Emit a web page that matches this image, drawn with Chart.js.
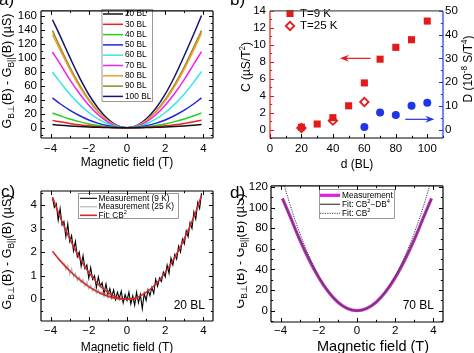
<!DOCTYPE html>
<html>
<head>
<meta charset="utf-8">
<script src="https://cdn.jsdelivr.net/npm/chart.js@4.4.1/dist/chart.umd.min.js"></script>
<style>
  body { margin: 0; width: 474px; height: 353px; position: relative; overflow: hidden; background: #fff; }
  canvas { position: absolute; }
  .lbl { position: absolute; font: 17px "Liberation Sans", Arial, sans-serif; color: #000; line-height: 17px; }
</style>
</head>
<body>
<canvas id="pa" width="237" height="176" style="left:0;top:0"></canvas>
<canvas id="pb" width="237" height="176" style="left:237px;top:0"></canvas>
<canvas id="pc" width="237" height="177" style="left:0;top:176px"></canvas>
<canvas id="pd" width="237" height="177" style="left:237px;top:176px"></canvas>
<div class="lbl" style="left:-1px;top:-9px">a)</div>
<div class="lbl" style="left:230px;top:-9px">b)</div>
<div class="lbl" style="left:1px;top:183px">c)</div>
<div class="lbl" style="left:230px;top:184px">d)</div>
<script>
// ---- panel a: G(B) curves for each thickness
const A_FIELD = [-3.9, -3.5, -3, -2.5, -2, -1.5, -1, -0.5, 0, 0.5, 1, 1.5, 2, 2.5, 3, 3.5, 3.9];
const A_LABELS = ['20 BL', '30 BL', '40 BL', '50 BL', '60 BL', '70 BL', '80 BL', '90 BL', '100 BL'];
const A_20 = [4.6, 3.7, 2.7, 1.9, 1.2, 0.7, 0.3, 0.1, 0, 0.1, 0.3, 0.7, 1.2, 1.9, 2.7, 3.7, 4.7];
const A_30 = [10.6, 8.6, 6.3, 4.4, 2.8, 1.6, 0.7, 0.2, 0, 0.2, 0.7, 1.6, 2.8, 4.4, 6.3, 8.6, 10.9];
const A_40 = [21.2, 17.2, 12.6, 8.8, 5.6, 3.2, 1.4, 0.35, 0, 0.35, 1.4, 3.2, 5.6, 8.8, 12.6, 17.2, 21.3];
const A_50 = [42.6, 34.3, 25.2, 17.5, 11.2, 6.3, 2.8, 0.7, 0, 0.7, 2.8, 6.3, 11.2, 17.5, 25.2, 34.3, 42.8];
const A_60 = [79.5, 65.1, 48.3, 33.8, 21.8, 12.3, 5.5, 1.4, 0, 1.4, 5.5, 12.3, 21.8, 33.8, 48.3, 65.3, 80.5];
const A_70 = [108, 91.2, 69, 49.2, 32.1, 18.3, 8.2, 2.1, 0, 2.1, 8.2, 18.3, 32.1, 49.2, 69, 91.2, 108.5];
const A_80 = [133, 111, 84, 59.5, 38.8, 22, 9.8, 2.4, 0, 2.4, 9.8, 22, 38.8, 59.5, 84, 111.5, 135];
const A_90 = [138.5, 115, 87, 62, 40.3, 23, 10.3, 2.6, 0, 2.6, 10.3, 23, 40.3, 62, 87, 115.5, 138.5];
const A_100 = [154, 131, 101, 72.5, 47.5, 27.5, 12.5, 3.1, 0, 3.1, 12.5, 27.5, 48, 73.5, 103, 134, 160];
const A_XTICKS = [-4, -2, 0, 2, 4];
const A_YTICKS = [0, 20, 40, 60, 80, 100, 120, 140, 160];

// ---- panel b: C and D versus thickness
const B_D9 = [20, 30, 40, 50, 60, 70, 80, 90, 100];
const B_C9 = [0.28, 0.65, 1.4, 2.8, 5.5, 8.3, 9.7, 10.6, 12.8];
const B_D25 = [20, 40, 60];
const B_C25 = [0.18, 1.05, 3.25];
const B_DD = [60, 70, 80, 90, 100];
const B_DVAL = [1.1, 7.2, 6.1, 10.0, 11.3];
const B_XTICKS = [0, 20, 40, 60, 80, 100];
const B_YTICKS = [0, 2, 4, 6, 8, 10, 12, 14];
const B_Y2TICKS = [0, 10, 20, 30, 40, 50];

// ---- panel c: 20 BL measurement
const C_FIELD_9K = [-3.9, -3.8, -3.7, -3.6, -3.5, -3.4, -3.3, -3.2, -3.1, -3.0, -2.9, -2.8, -2.7, -2.6, -2.5, -2.4, -2.3, -2.2, -2.1, -2.0,
  -1.9, -1.8, -1.7, -1.6, -1.5, -1.4, -1.3, -1.2, -1.1, -1.0, -0.9, -0.8, -0.7, -0.6, -0.5, -0.4, -0.3, -0.2, -0.1, 0,
  0.1, 0.2, 0.3, 0.4, 0.5, 0.6, 0.7, 0.8, 0.9, 1.0, 1.1, 1.2, 1.3, 1.4, 1.5, 1.6, 1.7, 1.8, 1.9, 2.0,
  2.1, 2.2, 2.3, 2.4, 2.5, 2.6, 2.7, 2.8, 2.9, 3.0, 3.1, 3.2, 3.3, 3.4, 3.5, 3.6, 3.7, 3.8, 3.9];
const C_G_9K = [4.30, 3.90, 4.05, 3.35, 3.85, 3.15, 3.30, 2.65, 3.20, 2.45, 2.70, 2.05, 2.45, 1.80, 2.00, 1.40, 1.85, 1.30, 1.45, 0.90,
  1.35, 0.85, 1.00, 0.50, 0.95, 0.55, 0.70, 0.25, 0.65, 0.20, 0.45, 0.10, 0.40, 0.00, 0.30, 0.05, 0.35, -0.15, 0.20, -0.05,
  0.30, -0.20, 0.15, -0.25, 0.30, -0.15, 0.20, -0.40, 0.25, -0.05, 0.40, 0.15, 0.50, 0.25, 0.85, 0.55, 0.90, 0.75, 1.15, 0.95,
  1.45, 1.10, 1.75, 1.45, 1.90, 1.70, 2.25, 2.00, 2.55, 2.35, 2.90, 2.65, 3.25, 3.00, 3.70, 3.40, 4.10, 3.85, 4.50];
const C_FIELD_25K = [-3.3, -3.2, -3.1, -3.0, -2.9, -2.8, -2.7, -2.6, -2.5, -2.4, -2.3, -2.2, -2.1, -2.0, -1.9, -1.8, -1.7, -1.6, -1.5,
  -1.4, -1.3, -1.2, -1.1, -1.0, -0.9, -0.8, -0.7, -0.6, -0.5, -0.4, -0.3, -0.2, -0.1, 0, 0.1, 0.2, 0.3];
const C_G_25K = [1.55, 1.25, 1.45, 1.05, 1.30, 0.95, 1.10, 0.80, 0.95, 0.70, 0.85, 0.55, 0.75, 0.45, 0.60, 0.35, 0.50, 0.25, 0.40,
  0.20, 0.32, 0.10, 0.25, 0.05, 0.20, 0.00, 0.15, -0.05, 0.12, -0.05, 0.10, -0.08, 0.08, -0.05, 0.06, -0.04, 0.05];
const C_FIT_9K = [4.33, 3.49, 2.57, 1.78, 1.14, 0.64, 0.29, 0.07, 0, 0.07, 0.29, 0.64, 1.14, 1.78, 2.57, 3.49, 4.40];
const C_FIT25_FIELD = [-3.9, -3.5, -3, -2.5, -2, -1.5, -1, -0.5, 0, 0.5];
const C_FIT_25K = [2.04, 1.64, 1.21, 0.84, 0.54, 0.30, 0.13, 0.03, 0, 0.03];
const C_XTICKS = [-4, -2, 0, 2, 4];
const C_YTICKS = [0, 1, 2, 3, 4];

// ---- panel d: 70 BL measurement and fits
const D_MEAS = [109, 91.5, 69, 49.2, 32.1, 18.3, 8.2, 2.1, 0, 2.1, 8.2, 18.3, 32.1, 49.2, 69, 91.5, 109];
const D_FIT4 = [108.5, 91.2, 69.2, 49.4, 32.2, 18.4, 8.2, 2.1, 0, 2.1, 8.2, 18.4, 32.2, 49.4, 69.2, 91.2, 108.5];
const D_FIT2 = [127.8, 102.9, 75.6, 52.5, 33.6, 18.9, 8.4, 2.1, 0, 2.1, 8.4, 18.9, 33.6, 52.5, 75.6, 102.9, 127.8];
const D_XTICKS = [-4, -2, 0, 2, 4];
const D_YTICKS = [0, 20, 40, 60, 80, 100, 120];

const FONT = '"Liberation Sans", Arial, Helvetica, sans-serif';
const RED = '#e41a1a', BLUE = '#1f35e6';
Chart.defaults.font.family = FONT;
Chart.defaults.font.size = 11.5;
Chart.defaults.color = '#000';

// text with _{sub} and ^{sup} parts
function parseRich(str) {
  const out = [];
  const re = /([_^])\{([^}]*)\}|([^_^]+)/g;
  let m;
  while ((m = re.exec(str))) {
    if (m[3]) out.push({ t: m[3] });
    else out.push({ t: m[2], sub: m[1] === '_', sup: m[1] === '^' });
  }
  return out;
}

function richText(ctx, str, x, y, o) {
  const size = o.size || 12, align = o.align || 'center';
  const segs = parseRich(str).map(s => ({ ...s, sz: (s.sub || s.sup) ? size * 0.68 : size }));
  ctx.save();
  ctx.translate(x, y);
  ctx.rotate(o.rot || 0);
  ctx.fillStyle = o.color || '#000';
  ctx.textBaseline = 'middle';
  ctx.textAlign = 'left';
  let w = 0;
  segs.forEach(s => { ctx.font = s.sz + 'px ' + FONT; s.w = ctx.measureText(s.t).width; w += s.w; });
  let cx = align === 'center' ? -w / 2 : align === 'right' ? -w : 0;
  segs.forEach(s => {
    ctx.font = s.sz + 'px ' + FONT;
    ctx.fillText(s.t, cx, s.sub ? size * 0.32 : s.sup ? -size * 0.33 : 0);
    cx += s.w;
  });
  ctx.restore();
}

function marker(ctx, ds, x, y) {
  const r = ds.pointRadius;
  ctx.beginPath();
  if (ds.pointStyle === 'rect') {
    const h = r * Math.SQRT1_2;
    ctx.rect(x - h, y - h, 2 * h, 2 * h);
  } else if (ds.pointStyle === 'rectRot') {
    ctx.moveTo(x - r, y); ctx.lineTo(x, y - r); ctx.lineTo(x + r, y); ctx.lineTo(x, y + r); ctx.closePath();
  } else {
    ctx.arc(x, y, r, 0, Math.PI * 2);
  }
  ctx.fillStyle = ds.backgroundColor;
  ctx.fill();
  if (ds.borderWidth) { ctx.lineWidth = ds.borderWidth; ctx.strokeStyle = ds.borderColor; ctx.stroke(); }
}

// frame, inward ticks, legend, titles, arrows
function makeDecor(cfg) {
  return {
    id: 'decor',
    afterDraw(chart) {
      const ctx = chart.ctx, a = chart.chartArea;
      ctx.save();
      (cfg.arrows || []).forEach(ar => {
        const xs = chart.scales.x, ys = chart.scales[ar.axis];
        const x1 = xs.getPixelForValue(ar.from), x2 = xs.getPixelForValue(ar.to), y = ys.getPixelForValue(ar.y);
        const d = Math.sign(x2 - x1);
        ctx.strokeStyle = ar.color; ctx.fillStyle = ar.color; ctx.lineWidth = 1.2;
        ctx.beginPath(); ctx.moveTo(x1, y); ctx.lineTo(x2 - d * 6, y); ctx.stroke();
        ctx.beginPath(); ctx.moveTo(x2, y); ctx.lineTo(x2 - d * 9, y - 3.5); ctx.lineTo(x2 - d * 6, y); ctx.lineTo(x2 - d * 9, y + 3.5); ctx.closePath(); ctx.fill();
      });
      const L = cfg.legend;
      if (L) {
        if (L.box) {
          const [x1, y1, x2, y2] = L.box;
          ctx.fillStyle = '#fff'; ctx.fillRect(x1, y1, x2 - x1, y2 - y1);
          ctx.strokeStyle = '#808080'; ctx.lineWidth = 0.8; ctx.strokeRect(x1 + 0.5, y1 + 0.5, x2 - x1, y2 - y1);
        }
        L.items.forEach((di, i) => {
          const ds = chart.data.datasets[di];
          const y = L.y0 + i * L.dy;
          if (L.marker) {
            marker(ctx, ds, (L.x1 + L.x2) / 2, y);
          } else {
            ctx.save();
            ctx.strokeStyle = ds.borderColor; ctx.lineWidth = ds.borderWidth;
            ctx.setLineDash(ds.borderDash || []);
            ctx.beginPath(); ctx.moveTo(L.x1, y); ctx.lineTo(L.x2, y); ctx.stroke();
            ctx.restore();
          }
          richText(ctx, ds.label, L.tx, y, { size: L.size, align: 'left' });
        });
      }
      (cfg.ticks || []).forEach(t => {
        const s = chart.scales[t.id];
        const vals = s.ticks.map(k => k.value);
        const step = vals[1] - vals[0];
        const all = [];
        vals.forEach(v => all.push([v, 4]));
        for (let v = vals[0] - step / 2; v <= s.max + 1e-9; v += step) if (v >= s.min) all.push([v, 2.2]);
        ctx.strokeStyle = t.color; ctx.lineWidth = 1;
        ctx.beginPath();
        all.forEach(([v, len]) => {
          const p = Math.round(s.getPixelForValue(v)) + 0.5;
          t.sides.forEach(side => {
            if (side === 'bottom') { ctx.moveTo(p, a.bottom); ctx.lineTo(p, a.bottom - len); }
            if (side === 'top') { ctx.moveTo(p, a.top); ctx.lineTo(p, a.top + len); }
            if (side === 'left') { ctx.moveTo(a.left, p); ctx.lineTo(a.left + len, p); }
            if (side === 'right') { ctx.moveTo(a.right, p); ctx.lineTo(a.right - len, p); }
          });
        });
        ctx.stroke();
      });
      const f = cfg.frame;
      ctx.lineWidth = 1.2;
      const edge = (c, x1, y1, x2, y2) => { ctx.strokeStyle = c; ctx.beginPath(); ctx.moveTo(x1, y1); ctx.lineTo(x2, y2); ctx.stroke(); };
      edge(f.top, a.left, a.top, a.right, a.top);
      edge(f.bottom, a.left, a.bottom, a.right, a.bottom);
      edge(f.left, a.left, a.top, a.left, a.bottom);
      edge(f.right, a.right, a.top, a.right, a.bottom);
      (cfg.titles || []).forEach(t => richText(ctx, t.text, t.x, t.y, t));
      ctx.restore();
    }
  };
}

function axis(min, max, ticks, fit, pad, extra) {
  return Object.assign({
    type: 'linear', min, max,
    afterBuildTicks: s => { s.ticks = ticks.map(v => ({ value: v })); },
    afterFit: s => { if (s.isHorizontal()) s.height = fit; else s.width = fit; },
    grid: { display: false, drawTicks: false, tickLength: 0 },
    border: { display: false },
    ticks: {
      padding: pad, autoSkip: false, maxRotation: 0, color: '#000', font: { size: 11.5 },
      callback: v => v < 0 ? '\u2212' + Math.abs(v) : String(v)
    }
  }, extra || {});
}

function curve(label, xs, ys, color, width, more) {
  return Object.assign({
    label, data: xs.map((x, i) => ({ x, y: ys[i] })),
    showLine: true, borderColor: color, backgroundColor: color, borderWidth: width,
    pointRadius: 0, pointHoverRadius: 0, tension: 0.4, fill: false
  }, more || {});
}

function options(padding, scales) {
  return {
    responsive: false, animation: false, events: [],
    layout: { padding },
    plugins: { legend: { display: false }, tooltip: { enabled: false } },
    scales
  };
}

const FULL_FRAME = { top: '#000', right: '#000', bottom: '#000', left: '#000' };

// panel a
const A_SERIES = [A_20, A_30, A_40, A_50, A_60, A_70, A_80, A_90, A_100];
const A_COLORS = ['#111111', '#ee2222', '#22d022', '#2424e0', '#33e8e8', '#ee22ee', '#f39a30', '#8c8c14', '#14146e'];
new Chart(document.getElementById('pa'), {
  type: 'scatter',
  data: { datasets: A_SERIES.map((s, i) => curve(A_LABELS[i], A_FIELD, s, A_COLORS[i], 1.5)) },
  options: options({ top: 1, right: 24, left: 0, bottom: 0 }, {
    x: axis(-4.5, 4.5, A_XTICKS, 38, 4),
    y: axis(-14.5, 166.6, A_YTICKS, 41, 4)
  }),
  plugins: [makeDecor({
    frame: FULL_FRAME,
    ticks: [{ id: 'x', sides: ['bottom', 'top'], color: '#000' }, { id: 'y', sides: ['left', 'right'], color: '#000' }],
    legend: { box: [101.5, 9, 152, 101], items: [0, 1, 2, 3, 4, 5, 6, 7, 8], y0: 14, dy: 10.3, x1: 103, x2: 123, tx: 125, size: 8.3 },
    titles: [
      { text: 'Magnetic field (T)', x: 127, y: 163, size: 12 },
      { text: 'G_{B\u22a5}(B) - G_{B||}(B) (\u00b5S)', x: 8, y: 71, rot: -Math.PI / 2, size: 12.5 }
    ]
  })]
});

// panel b
new Chart(document.getElementById('pb'), {
  type: 'scatter',
  data: {
    datasets: [
      { label: 'T=9 K', data: B_D9.map((d, i) => ({ x: d, y: B_C9[i] })), yAxisID: 'y', pointStyle: 'rect', pointRadius: 5, backgroundColor: RED, borderColor: RED, borderWidth: 0 },
      { label: 'T=25 K', data: B_D25.map((d, i) => ({ x: d, y: B_C25[i] })), yAxisID: 'y', pointStyle: 'rectRot', pointRadius: 4.2, backgroundColor: '#fff', borderColor: RED, borderWidth: 1.8 },
      { label: 'D', data: B_DD.map((d, i) => ({ x: d, y: B_DVAL[i] })), yAxisID: 'y2', pointStyle: 'circle', pointRadius: 4, backgroundColor: BLUE, borderColor: BLUE, borderWidth: 0 }
    ]
  },
  options: options({ top: 1, right: 0, left: 0, bottom: 0 }, {
    x: axis(0, 110, B_XTICKS, 38, 4),
    y: axis(-1, 14, B_YTICKS, 33, 4),
    y2: axis(-3.5714, 50, B_Y2TICKS, 31, 2, { position: 'right' })
  }),
  plugins: [makeDecor({
    frame: { top: '#555', right: BLUE, bottom: '#000', left: RED },
    ticks: [{ id: 'x', sides: ['bottom'], color: '#000' }, { id: 'y', sides: ['left'], color: RED }, { id: 'y2', sides: ['right'], color: BLUE }],
    arrows: [{ from: 64, to: 44.5, y: 8.4, axis: 'y', color: RED }, { from: 86, to: 104.5, y: 4.3, axis: 'y2', color: BLUE }],
    legend: { items: [0, 1], marker: true, y0: 13.5, dy: 12.5, x1: 48, x2: 58, tx: 63, size: 11.5 },
    titles: [
      { text: 'd (BL)', x: 120, y: 165, size: 12 },
      { text: 'C (\u00b5S/T^{2})', x: 10, y: 67, rot: -Math.PI / 2, size: 12 },
      { text: 'D (10^{-8} S/T^{4})', x: 232, y: 69, rot: -Math.PI / 2, size: 12 }
    ]
  })]
});

// panel c
new Chart(document.getElementById('pc'), {
  type: 'scatter',
  data: {
    datasets: [
      curve('Measurement (9 K)', C_FIELD_9K, C_G_9K, '#000', 1.1, { tension: 0, order: 1 }),
      curve('Measurement (25 K)', C_FIELD_25K, C_G_25K, '#b4b4b4', 1.1, { tension: 0, order: 2 }),
      curve('Fit: CB^{2}', A_FIELD, C_FIT_9K, '#d42a2a', 1.6, { order: 0 }),
      curve('Fit: CB^{2} (25 K)', C_FIT25_FIELD, C_FIT_25K, '#d42a2a', 1.6, { order: 0 })
    ]
  },
  options: options({ top: 15, right: 24, left: 0, bottom: 0 }, {
    x: axis(-4.5, 4.5, C_XTICKS, 32, 3),
    y: axis(-0.92, 4.59, C_YTICKS, 41, 4)
  }),
  plugins: [makeDecor({
    frame: FULL_FRAME,
    ticks: [{ id: 'x', sides: ['bottom', 'top'], color: '#000' }, { id: 'y', sides: ['left', 'right'], color: '#000' }],
    legend: { box: [78, 17, 178, 42], items: [0, 1, 2], y0: 22.3, dy: 8.5, x1: 80, x2: 97, tx: 98.5, size: 8.3 },
    titles: [
      { text: 'Magnetic field (T)', x: 127, y: 171.5, size: 12 },
      { text: 'G_{B\u22a5}(B) - G_{B||}(B) (\u00b5S)', x: 8, y: 76, rot: -Math.PI / 2, size: 12.5 },
      { text: '20 BL', x: 205, y: 129.5, size: 12, align: 'right' }
    ]
  })]
});

// panel d
new Chart(document.getElementById('pd'), {
  type: 'scatter',
  data: {
    datasets: [
      curve('Measurement', A_FIELD, D_MEAS, '#e020e0', 3.2, { order: 2 }),
      curve('Fit: CB^{2}\u2212DB^{4}', A_FIELD, D_FIT4, '#505050', 1.3, { order: 0 }),
      curve('Fit: CB^{2}', A_FIELD, D_FIT2, '#222', 0.9, { order: 1, borderDash: [1.2, 1.2] })
    ]
  },
  options: options({ top: 7, right: 31, left: 0, bottom: 0 }, {
    x: axis(-4.5, 4.5, D_XTICKS, 31, 2),
    y: axis(-11, 121.2, D_YTICKS, 34, 3)
  }),
  plugins: [makeDecor({
    frame: FULL_FRAME,
    ticks: [{ id: 'x', sides: ['bottom', 'top'], color: '#000' }, { id: 'y', sides: ['left', 'right'], color: '#000' }],
    legend: { box: [82, 13, 157, 42], items: [0, 1, 2], y0: 19.3, dy: 9, x1: 83, x2: 103, tx: 105, size: 8.3 },
    titles: [
      { text: 'Magnetic field (T)', x: 136, y: 170.5, size: 14.5 },
      { text: 'G_{B\u22a5}(B) - G_{B||}(B) (\u00b5S)', x: 4, y: 75, rot: -Math.PI / 2, size: 12.5 },
      { text: '70 BL', x: 197, y: 129.5, size: 12, align: 'right' }
    ]
  })]
});
</script>
</body>
</html>
